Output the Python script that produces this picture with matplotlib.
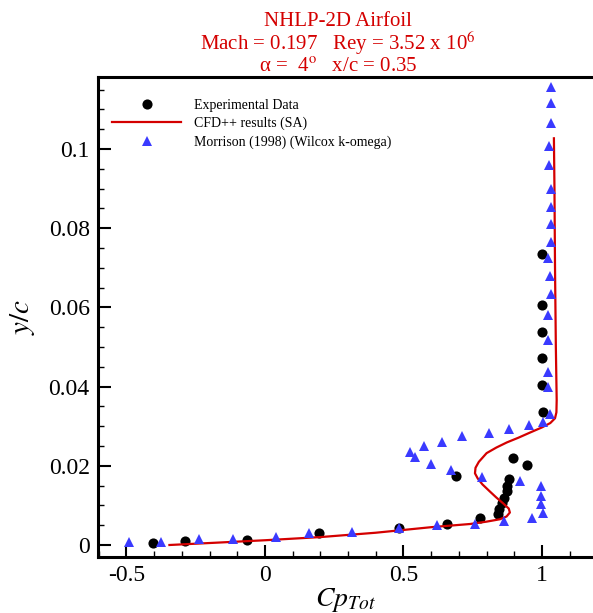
import matplotlib
matplotlib.use('Agg')
import matplotlib.pyplot as plt
from matplotlib.ticker import FixedLocator, MultipleLocator
from matplotlib.lines import Line2D

plt.rcParams['font.family'] = ['Liberation Serif', 'DejaVu Serif']
plt.rcParams['mathtext.fontset'] = 'stix'
plt.rcParams['axes.unicode_minus'] = False

# ---------------- data ----------------
exp_cp = [-0.403, -0.289, -0.064, 0.195, 0.485, 0.656, 0.776, 0.840, 0.846,
          0.855, 0.864, 0.873, 0.875, 0.881, 0.688, 0.945, 0.896, 1.002,
          1.001, 1.001, 1.001, 1.001, 1.001]
exp_y = [0.0006, 0.0009, 0.0013, 0.0030, 0.0043, 0.0053, 0.0069, 0.0078, 0.0090,
         0.0105, 0.0119, 0.0136, 0.0150, 0.0166, 0.0173, 0.0201, 0.0219, 0.0336,
         0.0404, 0.0473, 0.0537, 0.0606, 0.0735]

cfd_cp = [-0.345, -0.2, 0.0, 0.2, 0.4, 0.6, 0.74, 0.80, 0.848, 0.872, 0.884,
          0.880, 0.860, 0.835, 0.812, 0.785, 0.768, 0.758, 0.760, 0.772, 0.800,
          0.835, 0.873, 0.915, 0.957, 1.000, 1.030, 1.047, 1.052, 1.053, 1.050,
          1.047, 1.045, 1.043]
cfd_y = [0.0000, 0.0005, 0.0012, 0.0020, 0.0031, 0.0045, 0.0053, 0.0059, 0.0065,
         0.0072, 0.0082, 0.0092, 0.0105, 0.0120, 0.0135, 0.0153, 0.0168, 0.0181,
         0.0195, 0.0210, 0.0232, 0.0246, 0.0259, 0.0271, 0.0284, 0.0297, 0.0308,
         0.0320, 0.0335, 0.0366, 0.0500, 0.0700, 0.0900, 0.1027]

mor_cp = [-0.490, -0.377, -0.238, -0.117, 0.038, 0.159, 0.313, 0.485, 0.622,
          0.759, 0.864, 0.963, 1.003, 0.995, 0.995, 0.995, 0.922, 0.784, 0.670,
          0.598, 0.542, 0.523, 0.574, 0.638, 0.712, 0.809, 0.882, 0.954, 1.004,
          1.029, 1.022, 1.023, 1.023, 1.023, 1.031, 1.029, 1.023, 1.031, 1.031,
          1.031, 1.031, 1.025, 1.025, 1.032, 1.032, 1.032]
mor_y = [0.0007, 0.0007, 0.0014, 0.0014, 0.0019, 0.0030, 0.0033, 0.0042, 0.0050,
         0.0053, 0.0061, 0.0067, 0.0082, 0.0103, 0.0124, 0.0148, 0.0162, 0.0172,
         0.0189, 0.0205, 0.0221, 0.0234, 0.0250, 0.0260, 0.0276, 0.0282, 0.0292,
         0.0304, 0.0310, 0.0332, 0.0398, 0.0436, 0.0518, 0.0580, 0.0634, 0.0679,
         0.0724, 0.0766, 0.0810, 0.0853, 0.0899, 0.0960, 0.1008, 0.1066, 0.1115,
         0.1157]

x_ticks = [-0.5, 0, 0.5, 1]
x_tick_labels = ['-0.5', '0', '0.5', '1']
y_ticks = [0, 0.02, 0.04, 0.06, 0.08, 0.1]
y_tick_labels = ['0', '0.02', '0.04', '0.06', '0.08', '0.1']

series_labels = ['Experimental Data', 'CFD++ results (SA)', 'Morrison (1998) (Wilcox k-omega)']
title_lines = ['NHLP-2D Airfoil',
               'Mach = 0.197   Rey = 3.52 x 10$^{6}$',
               '\u03b1 =  4$^{\\mathrm{o}}$   x/c = 0.35']

# ---------------- figure ----------------
W, H = 593, 613
fig = plt.figure(figsize=(W / 100, H / 100), dpi=100)
ax = fig.add_axes([98 / W, (H - 557) / H, (W - 98) / W, (557 - 77) / H])

red = '#d40000'
blue = '#3a3aff'

ax.plot(exp_cp, exp_y, 'o', color='black', markersize=7.3, markeredgewidth=0, zorder=3)
ax.plot(cfd_cp, cfd_y, '-', color=red, linewidth=1.6, zorder=4)
ax.plot(mor_cp, mor_y, '^', color=blue, markersize=7.0, markeredgewidth=0, zorder=5)

ax.set_xlim((98 - 265) / 277, (W - 265) / 277)
ax.set_ylim((545 - 557) / 3960, (545 - 77) / 3960)

ax.xaxis.set_major_locator(FixedLocator(x_ticks))
ax.set_xticklabels(x_tick_labels)
ax.yaxis.set_major_locator(FixedLocator(y_ticks))
ax.set_yticklabels(y_tick_labels)
ax.xaxis.set_minor_locator(MultipleLocator(0.1))
ax.yaxis.set_minor_locator(MultipleLocator(0.005))

ax.tick_params(which='major', direction='in', length=9, width=1.5,
               top=False, right=False, labelsize=17, pad=6)
ax.tick_params(which='minor', direction='in', length=4.5, width=1.0,
               top=False, right=False)

for s in ['left', 'bottom', 'top']:
    ax.spines[s].set_linewidth(2.2)
ax.spines['right'].set_visible(False)

ax.set_xlabel(r'$Cp_{Tot}$', fontsize=20, labelpad=0)
ax.set_ylabel(r'$y/c$', fontsize=21, labelpad=8)

handles = [Line2D([], [], marker='o', color='black', linestyle='none', markersize=7.3, markeredgewidth=0),
           Line2D([], [], color=red, linewidth=1.6),
           Line2D([], [], marker='^', color=blue, linestyle='none', markersize=7.0, markeredgewidth=0)]
ax.legend(handles, series_labels, loc='upper left',
          bbox_to_anchor=(112 / W, 1 - 99 / H), bbox_transform=fig.transFigure,
          frameon=False, fontsize=10, handlelength=5.0, handletextpad=0.9,
          labelspacing=0.35, borderpad=0, borderaxespad=0)

fig.text(338 / W, 1 - 26 / H, title_lines[0], color=red, fontsize=15, ha='center', va='baseline')
fig.text(338 / W, 1 - 50 / H, title_lines[1], color=red, fontsize=15, ha='center', va='baseline')
fig.text(338 / W, 1 - 72 / H, title_lines[2], color=red, fontsize=15, ha='center', va='baseline')

fig.savefig('out.png', dpi=100)
